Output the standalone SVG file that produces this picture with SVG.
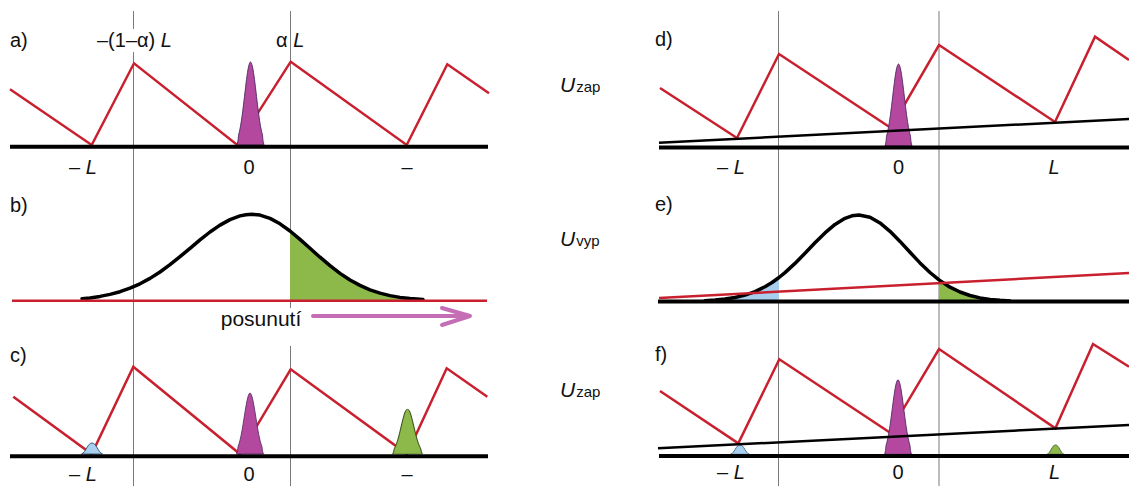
<svg xmlns="http://www.w3.org/2000/svg" xmlns:xlink="http://www.w3.org/1999/xlink" width="1129" height="486" viewBox="0 0 1129 486">
<style>
text{font-family:"Liberation Sans",Arial,sans-serif;font-size:20px;fill:#111}
.it{font-style:italic}
.vl{stroke:#7a7a7a;stroke-width:1;fill:none}
.saw{stroke:#c8202e;stroke-width:2.5;fill:none;stroke-linejoin:miter}
.base{stroke:#000;stroke-width:4;fill:none}
.thr{stroke:#000;stroke-width:2.5;fill:none}
.rthr{stroke:#c8202e;stroke-width:2.5;fill:none}
.curve{stroke:#000;stroke-width:3.5;fill:none;stroke-linejoin:round;stroke-linecap:round}
.mag{fill:#b3489e;stroke:#4d2a62;stroke-width:1;vector-effect:non-scaling-stroke}
.grn{fill:#8db84a;stroke:#3f5a22;stroke-width:1;vector-effect:non-scaling-stroke}
.blu{fill:#a8cfee;stroke:#3a5a7a;stroke-width:1;vector-effect:non-scaling-stroke}
.gfill{fill:#8db84a}
.bfill{fill:#a8cfee}
.arr{stroke:#c56db5;stroke-width:4;fill:none;stroke-linecap:round;stroke-linejoin:round}
.U{font-size:21px;font-style:italic}
.sub{font-size:15px;font-style:normal}
</style>
<defs>
<path id="pk" d="M-13.5,0 C-12.6,-3 -12.3,-7 -12,-11.8 L-11,-16.6 L-10,-22.6 L-9,-30 L-8,-38.6 L-7,-48.3 L-6,-58.6 L-5,-69 L-4,-78.8 L-3,-87.5 L-2,-94.2 C-1.2,-98 -0.6,-100 0,-100 C0.6,-100 1.2,-98 2,-94.2 L3,-87.5 L4,-78.8 L5,-69 L6,-58.6 L7,-48.3 L8,-38.6 L9,-30 L10,-22.6 L11,-16.6 L12,-11.8 C12.3,-7 12.6,-3 13.5,0 Z"/>
<path id="dome" d="M-10.5,0 C-6,-1.5 -4.5,-11 0,-11 C4.5,-11 6,-1.5 10.5,0 Z"/>
</defs>
<rect width="1129" height="486" fill="#fff"/>

<g id="gridlines">
<path class="vl" d="M133.5,11 V29 M133.5,52 V486 M290.5,11 V308 M290.5,346 V486 M778.5,11 V486 M939,11 V486"/>
</g>

<g id="panel-a">
<text x="10" y="47">a)</text>
<text x="97" y="47">–(1–α) <tspan class="it">L</tspan></text>
<text x="276" y="47">α <tspan class="it">L</tspan></text>
<polyline class="saw" points="10,89.3 91.7,145 134,63.3 237.3,145 290.7,61.7 406.7,145 447.3,64.3 489,93.3"/>
<use xlink:href="#pk" class="mag" transform="translate(250.5,145) scale(1,0.83)"/>
<line class="base" x1="10" y1="146.7" x2="488" y2="146.7"/>
<text x="83" y="174" text-anchor="middle">– <tspan class="it">L</tspan></text>
<text x="249" y="174" text-anchor="middle">0</text>
<text x="407" y="174" text-anchor="middle">–</text>
</g>

<g id="panel-b">
<text x="10" y="212">b)</text>
<path class="gfill" d="M290,300.7 L290,231 L300,239.4 L310,248.3 L320,257.2 L330,265.7 L340,273.4 L350,280 L360,285.4 L370,289.8 L380,293.1 L390,295.6 L400,297.4 L410,298.6 L423,299.6 L423,300.7 Z"/>
<path class="curve" d="M82,298.7 L90,297.9 L100,296.4 L110,294.4 L120,291.7 L130,288.2 L140,283.8 L150,278.4 L160,272 L170,264.7 L180,256.7 L190,248.3 L200,239.9 L210,232 L220,225.1 L230,219.6 L240,215.9 L246,214.7 L252,214.3 L260,215.1 L270,218.4 L280,223.8 L290,231 L300,239.4 L310,248.3 L320,257.2 L330,265.7 L340,273.4 L350,280 L360,285.4 L370,289.8 L380,293.1 L390,295.6 L400,297.4 L410,298.6 L423,299.6"/>
<line class="rthr" x1="12" y1="300.7" x2="487" y2="300.7"/>
<text x="261" y="326" text-anchor="middle" style="font-size:21px">posunutí</text>
<path class="arr" d="M313,316 H468 M442,308 L470,316 L442,325"/>
</g>

<g id="panel-c">
<text x="10" y="362">c)</text>
<polyline class="saw" points="13.3,396.7 91.7,454 133.3,366.7 240,454 290.7,369.3 407,454 446.7,368.3 487.3,396.7"/>
<use xlink:href="#dome" class="blu" transform="translate(92,454)"/>
<use xlink:href="#pk" class="mag" transform="translate(250,454) scale(1,0.61)"/>
<use xlink:href="#pk" class="grn" transform="translate(407.5,454) scale(1.1,0.45)"/>
<line class="base" x1="10" y1="456.2" x2="488" y2="456.2"/>
<text x="83" y="481" text-anchor="middle">– <tspan class="it">L</tspan></text>
<text x="249" y="481" text-anchor="middle">0</text>
<text x="407" y="481" text-anchor="middle">–</text>
</g>

<g id="panel-d">
<text x="655" y="46">d)</text>
<text x="560" y="92" class="U">U<tspan class="sub" dx="1">zap</tspan></text>
<polyline class="saw" points="660,88 737,138 779,54 891,128 939,45 1055,122 1095,36.7 1129,60"/>
<use xlink:href="#pk" class="mag" transform="translate(898.5,146) scale(1,0.82)"/>
<line class="thr" x1="659" y1="142.7" x2="1129" y2="119"/>
<line class="base" x1="659" y1="147.5" x2="1129" y2="147.5"/>
<text x="731" y="174" text-anchor="middle">– <tspan class="it">L</tspan></text>
<text x="898.5" y="174" text-anchor="middle">0</text>
<text x="1054" y="174" text-anchor="middle" class="it">L</text>
</g>

<g id="panel-e">
<text x="655" y="211">e)</text>
<text x="560" y="246" class="U">U<tspan class="sub" dx="1">vyp</tspan></text>
<path class="bfill" d="M705,301.5 L705,300.7 L715,300.1 L725,299.1 L735,297.5 L745,295.1 L755,291.6 L765,286.7 L772,282.5 L779,277.5 L779,301.5 Z"/>
<path class="gfill" d="M939,301.5 L939,279.9 L950,287.2 L960,292 L970,295.5 L980,297.9 L990,299.4 L1000,300.3 L1010,300.9 L1010,301.5 Z"/>
<line class="base" x1="658" y1="301.5" x2="1129" y2="301.5"/>
<path class="curve" d="M705,300.7 L715,300.1 L725,299.1 L735,297.5 L745,295.1 L755,291.6 L765,286.7 L772,282.5 L779,277.5 L785,272.6 L795,263.4 L805,253.2 L815,242.8 L825,232.9 L835,224.4 L845,218.3 L852,215.8 L859,215 L870,217.2 L880,222.9 L890,231.3 L900,241.4 L910,252.3 L920,262.9 L930,272.5 L939,279.9 L950,287.2 L960,292 L970,295.5 L980,297.9 L990,299.4 L1000,300.3 L1010,300.9"/>
<line class="rthr" x1="659" y1="298" x2="1129" y2="273"/>
</g>

<g id="panel-f">
<text x="655" y="361">f)</text>
<text x="560" y="397" class="U">U<tspan class="sub" dx="1">zap</tspan></text>
<polyline class="saw" points="660,391 738.3,443.3 779.3,359.3 889.4,432.3 939,349 1055.4,428.3 1093,344 1129,366.7"/>
<use xlink:href="#dome" class="blu" transform="translate(740,454.3) scale(0.9,0.85)"/>
<use xlink:href="#dome" class="grn" transform="translate(1055.5,454.3) scale(0.8,0.85)"/>
<use xlink:href="#pk" class="mag" transform="translate(898,454.3) scale(1,0.745)"/>
<line class="thr" x1="658" y1="448.3" x2="1129" y2="425"/>
<line class="base" x1="659" y1="456" x2="1129" y2="456"/>
<text x="731" y="479" text-anchor="middle">– <tspan class="it">L</tspan></text>
<text x="898" y="479" text-anchor="middle">0</text>
<text x="1054.5" y="479" text-anchor="middle" class="it">L</text>
</g>
</svg>
